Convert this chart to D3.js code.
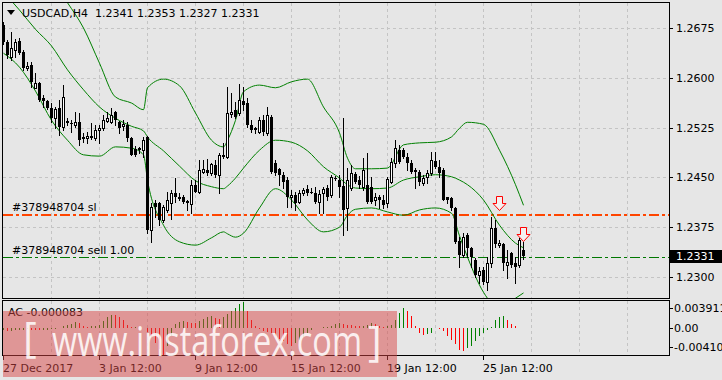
<!DOCTYPE html>
<head>
  <meta charset="utf-8">
  <script src="https://d3js.org/d3.v7.min.js"></script>
  <style>
body { margin:0; background:#e6e6e6; }
text {
	font-family: "DejaVu Sans", sans-serif;
	font-size: 11px;
	fill: #000;
}
.grid {
	stroke: #c4c4c4;
	stroke-dasharray: 3,3;
	shape-rendering: crispEdges;
}
.frame {
	fill: none;
	stroke: #000;
	shape-rendering: crispEdges;
}
.band {
	fill: none;
	stroke: #008000;
	stroke-width: 1;
}
.wm {
	font-family: "Open Sans", sans-serif;
	font-size: 42px;
	fill: #fff;
}
  </style>
</head>

<body>
  <script>
const symbol = 'USDCAD'
const period = 'H4'

// H4 bars, left to right
const opens = [1.2680,1.2654,1.2631,1.2642,1.2655,1.2639,1.2615,1.2619,1.2585,1.2592,
	1.2570,1.2565,1.2555,1.2539,1.2555,1.2526,1.2535,1.2532,1.2529,1.2533,
	1.2511,1.2509,1.2512,1.2509,1.2521,1.2524,1.2535,1.2533,1.2548,1.2533,
	1.2527,1.2529,1.2509,1.2493,1.2494,1.2491,1.2511,1.2371,1.2411,1.2411,
	1.2386,1.2401,1.2411,1.2427,1.2420,1.2420,1.2415,1.2410,1.2439,1.2428,
	1.2458,1.2461,1.2457,1.2469,1.2454,1.2484,1.2481,1.2545,1.2552,1.2547,
	1.2565,1.2562,1.2529,1.2524,1.2518,1.2536,1.2517,1.2541,1.2472,1.2463,
	1.2454,1.2446,1.2420,1.2424,1.2413,1.2427,1.2433,1.2428,1.2427,1.2413,
	1.2427,1.2434,1.2424,1.2449,1.2446,1.2437,1.2404,1.2434,1.2455,1.2446,
	1.2436,1.2439,1.2436,1.2416,1.2420,1.2416,1.2411,1.2443,1.2472,1.2491,
	1.2491,1.2481,1.2472,1.2461,1.2458,1.2442,1.2451,1.2457,1.2475,1.2466,
	1.2461,1.2420,1.2419,1.2404,1.2354,1.2333,1.2363,1.2344,1.2326,1.2303,
	1.2311,1.2293,1.2321,1.2374,1.2348,1.2350,1.2318,1.2336,1.2321,1.2318,
	1.2341]
const highs = [1.2684,1.2657,1.2669,1.2658,1.2660,1.2642,1.2624,1.2624,1.2607,1.2594,
	1.2574,1.2567,1.2562,1.2556,1.2567,1.2589,1.2539,1.2536,1.2548,1.2547,
	1.2517,1.2518,1.2532,1.2529,1.2529,1.2544,1.2548,1.2555,1.2550,1.2535,
	1.2536,1.2533,1.2511,1.2497,1.2496,1.2511,1.2512,1.2411,1.2416,1.2413,
	1.2408,1.2428,1.2431,1.2449,1.2427,1.2424,1.2416,1.2446,1.2446,1.2476,
	1.2476,1.2478,1.2472,1.2476,1.2487,1.2502,1.2586,1.2577,1.2564,1.2591,
	1.2586,1.2570,1.2536,1.2526,1.2541,1.2544,1.2556,1.2544,1.2476,1.2464,
	1.2458,1.2451,1.2431,1.2428,1.2431,1.2434,1.2439,1.2434,1.2436,1.2431,
	1.2436,1.2439,1.2454,1.2452,1.2454,1.2539,1.2464,1.2469,1.2458,1.2452,
	1.2479,1.2487,1.2451,1.2427,1.2424,1.2424,1.2451,1.2479,1.2506,1.2499,
	1.2494,1.2487,1.2476,1.2464,1.2461,1.2454,1.2461,1.2488,1.2488,1.2476,
	1.2464,1.2420,1.2420,1.2405,1.2360,1.2366,1.2366,1.2345,1.2329,1.2315,
	1.2315,1.2330,1.2390,1.2386,1.2356,1.2351,1.2341,1.2338,1.2330,1.2359,
	1.2353]
const lows = [1.2651,1.2630,1.2627,1.2631,1.2636,1.2612,1.2612,1.2586,1.2585,1.2565,
	1.2556,1.2553,1.2533,1.2524,1.2514,1.2521,1.2529,1.2518,1.2526,1.2499,
	1.2503,1.2502,1.2508,1.2506,1.2502,1.2521,1.2533,1.2532,1.2529,1.2517,
	1.2521,1.2505,1.2484,1.2482,1.2487,1.2481,1.2366,1.2353,1.2390,1.2378,
	1.2383,1.2398,1.2387,1.2413,1.2416,1.2411,1.2401,1.2396,1.2428,1.2427,
	1.2457,1.2454,1.2454,1.2451,1.2427,1.2479,1.2479,1.2541,1.2539,1.2544,
	1.2552,1.2526,1.2518,1.2517,1.2517,1.2514,1.2514,1.2457,1.2454,1.2439,
	1.2434,1.2405,1.2405,1.2401,1.2411,1.2424,1.2424,1.2427,1.2411,1.2396,
	1.2396,1.2416,1.2420,1.2446,1.2420,1.2363,1.2371,1.2431,1.2442,1.2434,
	1.2431,1.2411,1.2411,1.2408,1.2404,1.2404,1.2405,1.2442,1.2466,1.2472,
	1.2479,1.2461,1.2457,1.2434,1.2439,1.2439,1.2442,1.2454,1.2464,1.2451,
	1.2416,1.2411,1.2401,1.2351,1.2315,1.2330,1.2330,1.2315,1.2300,1.2291,
	1.2289,1.2281,1.2315,1.2345,1.2345,1.2311,1.2299,1.2315,1.2291,1.2315,
	1.2327]
const closes = [1.2654,1.2634,1.2645,1.2654,1.2637,1.2615,1.2618,1.2594,1.2592,1.2567,
	1.2565,1.2555,1.2539,1.2553,1.2526,1.2571,1.2532,1.2530,1.2533,1.2506,
	1.2508,1.2512,1.2509,1.2521,1.2524,1.2536,1.2539,1.2544,1.2536,1.2524,
	1.2530,1.2509,1.2484,1.2484,1.2491,1.2506,1.2371,1.2405,1.2405,1.2386,
	1.2405,1.2416,1.2427,1.2420,1.2418,1.2413,1.2411,1.2439,1.2428,1.2461,
	1.2463,1.2457,1.2470,1.2454,1.2484,1.2481,1.2547,1.2548,1.2541,1.2567,
	1.2559,1.2529,1.2521,1.2521,1.2536,1.2518,1.2544,1.2458,1.2457,1.2454,
	1.2443,1.2420,1.2424,1.2411,1.2427,1.2431,1.2427,1.2428,1.2413,1.2425,
	1.2433,1.2420,1.2451,1.2449,1.2436,1.2401,1.2446,1.2457,1.2443,1.2439,
	1.2461,1.2413,1.2413,1.2420,1.2416,1.2408,1.2448,1.2473,1.2494,1.2473,
	1.2481,1.2472,1.2458,1.2458,1.2443,1.2449,1.2457,1.2476,1.2466,1.2457,
	1.2416,1.2416,1.2404,1.2353,1.2333,1.2360,1.2344,1.2330,1.2303,1.2309,
	1.2293,1.2321,1.2374,1.2350,1.2351,1.2321,1.2323,1.2318,1.2315,1.2356,
	1.2331]

// Bollinger bands read at these bars
const bandBars = [0,4,8,12,16,20,24,28,32,35,36,40,44,48,52,55,56,58,60,64,
	68,72,76,80,84,86,88,92,96,100,104,108,112,114,116,120,124,128,130]
const upperBand = [1.2860,1.2823,1.2785,1.2747,1.2713,1.2675,1.2622,1.2571,1.2562,1.2552,
	1.2585,1.2598,1.2588,1.2547,1.2506,1.2496,1.2506,1.2536,1.2579,1.2589,
	1.2585,1.2594,1.2598,1.2556,1.2517,1.2479,1.2463,1.2463,1.2464,1.2499,
	1.2502,1.2503,1.2511,1.2524,1.2533,1.2530,1.2491,1.2439,1.2408]
const middleBand = [1.2729,1.2702,1.2673,1.2648,1.2612,1.2582,1.2556,1.2539,1.2527,1.2520,
	1.2511,1.2490,1.2467,1.2445,1.2436,1.2433,1.2437,1.2449,1.2464,1.2491,
	1.2506,1.2503,1.2490,1.2466,1.2449,1.2439,1.2434,1.2433,1.2434,1.2446,
	1.2451,1.2454,1.2451,1.2446,1.2439,1.2416,1.2378,1.2351,1.2344]
const lowerBand = [1.2637,1.2616,1.2580,1.2536,1.2506,1.2484,1.2482,1.2496,1.2494,1.2484,
	1.2446,1.2378,1.2353,1.2348,1.2359,1.2368,1.2365,1.2360,1.2366,1.2404,
	1.2433,1.2416,1.2386,1.2368,1.2375,1.2393,1.2402,1.2404,1.2398,1.2393,
	1.2401,1.2404,1.2396,1.2362,1.2330,1.2277,1.2253,1.2268,1.2276]

// Accelerator oscillator
const acValues = [-0.00038,-0.00045,-0.00042,-0.00038,-0.00033,-0.00030,-0.00023,-0.00030,-0.00038,-0.00039,
	-0.00036,-0.00030,-0.00023,-0.00015,0.00003,0.00023,0.00038,0.00060,0.00083,0.00068,
	0.00023,0.00015,0.00023,0.00030,0.00045,0.00105,0.00165,0.00195,0.00188,0.00165,
	0.00120,0.00045,0.00008,0.00015,0.00003,-0.00008,-0.00060,-0.00135,-0.00225,-0.00315,
	-0.00410,-0.00270,-0.00120,0.00060,0.00090,0.00105,0.00090,0.00075,0.00068,0.00105,
	0.00135,0.00165,0.00180,0.00150,0.00135,0.00158,0.00210,0.00255,0.00300,0.00360,
	0.003911,0.00255,0.00120,0.00030,-0.00015,-0.00045,-0.00060,-0.00075,-0.00120,-0.00165,
	-0.00195,-0.00240,-0.00270,-0.00225,-0.00180,-0.00135,-0.00075,-0.00030,0.00000,-0.00008,
	0.00008,0.00015,0.00030,0.00060,0.00075,0.00060,0.00045,0.00038,0.00030,0.00023,
	0.00030,0.00045,0.00075,0.00060,0.00030,0.00015,0.00023,0.00045,0.00120,0.00225,
	0.00300,0.00255,0.00180,0.00030,-0.00075,-0.00105,-0.00090,-0.00075,-0.00008,-0.00015,
	-0.00045,-0.00120,-0.00180,-0.00240,-0.00330,-0.00345,-0.00300,-0.00270,-0.00195,-0.00120,
	-0.00075,-0.00030,0.00015,0.00120,0.00165,0.00180,0.00120,0.00060,0.00030,-0.00003,
	-0.000083]

const priceTicks = [1.2300, 1.2375, 1.2450, 1.2525, 1.2600, 1.2675]
const acTicks = [0.003911, 0, -0.0041]
const acTickLabels = ['0.003911', '0.00', '-0.00410']
const timeBars = [0, 24, 48, 72, 96, 120]
const timeLabels = ['27 Dec 2017', '3 Jan 12:00', '9 Jan 12:00', '15 Jan 12:00', '19 Jan 12:00', '25 Jan 12:00']

const orderId = '378948704'
const slPrice = 1.2394
const sellPrice = 1.2330
const lots = 1.00
const arrowBars = [124, 130]
const arrowPrices = [1.2401, 1.2354]

const W = 722
const H = 380

const x = d3.scaleLinear().domain([0, 166.5]).range([3, 669])
const y = d3.scaleLinear().domain([1.2300, 1.2675]).range([277, 28])
const yAc = d3.scaleLinear().domain([-0.0041, 0.003911]).range([355, 302])
const px = i => Math.round(x(i))

const svg = d3.select('body')
	.append('svg')
	.attr('width', W)
	.attr('height', H)

svg.append('rect').attr('width', W).attr('height', H).attr('fill', '#e6e6e6')

const defs = svg.append('defs')
defs.append('clipPath').attr('id', 'clipMain')
	.append('rect').attr('x', 3).attr('y', 3).attr('width', 666).attr('height', 295)
defs.append('clipPath').attr('id', 'clipAc')
	.append('rect').attr('x', 3).attr('y', 301).attr('width', 666).attr('height', 54)

// grid
const gridBars = d3.range(12, 167, 12)
const grid = svg.append('g')
grid.selectAll('.hgrid')
	.data(priceTicks)
	.enter().append('line')
	.attr('class', 'grid')
	.attr('x1', 3).attr('x2', 669)
	.attr('y1', d => Math.round(y(d)) + 0.5)
	.attr('y2', d => Math.round(y(d)) + 0.5)
grid.selectAll('.vgrid')
	.data(gridBars)
	.enter().append('line')
	.attr('class', 'grid')
	.attr('x1', d => px(d) + 0.5).attr('x2', d => px(d) + 0.5)
	.attr('y1', 3).attr('y2', 298)
grid.selectAll('.vgridAc')
	.data(gridBars)
	.enter().append('line')
	.attr('class', 'grid')
	.attr('x1', d => px(d) + 0.5).attr('x2', d => px(d) + 0.5)
	.attr('y1', 301).attr('y2', 355)

// order lines (stop loss and entry), dash-dot
const orderLevels = [slPrice, sellPrice]
const orderColors = ['#ff4500', '#007800']
const orderWidths = [2, 1]
svg.selectAll('.orderline')
	.data(orderLevels)
	.enter().append('path')
	.attr('d', (d, k) => `M3,${Math.round(y(d)) + (orderWidths[k] === 1 ? 0.5 : 0)}H669`)
	.attr('fill', 'none')
	.attr('stroke', (d, k) => orderColors[k])
	.attr('stroke-width', (d, k) => orderWidths[k])
	.attr('stroke-dasharray', '10,3,3,3')

const main = svg.append('g').attr('clip-path', 'url(#clipMain)')

// bands
const bandLine = vals => d3.line()
	.x((d, i) => x(bandBars[i]) + 0.5)
	.y(d => y(d))
	.curve(d3.curveMonotoneX)(vals)
;[upperBand, middleBand, lowerBand].forEach(vals => {
	main.append('path').attr('class', 'band').attr('d', bandLine(vals))
})

// candles
const bars = d3.range(closes.length)
const candle = main.selectAll('.candle')
	.data(bars)
	.enter().append('g')
	.attr('class', 'candle')

candle.append('line')
	.attr('x1', i => px(i) + 0.5).attr('x2', i => px(i) + 0.5)
	.attr('y1', i => Math.round(y(highs[i])))
	.attr('y2', i => Math.round(y(lows[i])) + 1)
	.attr('stroke', '#000')
	.attr('shape-rendering', 'crispEdges')

candle.each(function (i) {
	const g = d3.select(this)
	const top = Math.round(y(Math.max(opens[i], closes[i])))
	const bot = Math.round(y(Math.min(opens[i], closes[i])))
	if (closes[i] > opens[i]) {
		g.append('rect')
			.attr('x', px(i) - 0.5).attr('y', top + 0.5)
			.attr('width', 2).attr('height', Math.max(bot - top, 1))
			.attr('fill', '#fff').attr('stroke', '#000')
	} else {
		g.append('rect')
			.attr('x', px(i) - 1).attr('y', top)
			.attr('width', 3).attr('height', Math.max(bot - top, 1))
			.attr('fill', '#000')
	}
})

// sell arrows
main.selectAll('.arrow')
	.data(arrowBars)
	.enter().append('path')
	.attr('d', (b, k) => {
		const cx = px(b) + 0.5
		const t = Math.round(y(arrowPrices[k])) + 0.5
		return `M${cx - 3},${t - 14}H${cx + 3}V${t - 7}H${cx + 6.5}L${cx},${t}L${cx - 6.5},${t - 7}H${cx - 3}Z`
	})
	.attr('fill', '#f4f0f0')
	.attr('stroke', '#ff0000')

// header
svg.append('path').attr('d', 'M7,10H15L11,15Z').attr('fill', '#000')
svg.append('text')
	.attr('x', 22).attr('y', 17)
	.style('white-space', 'pre')
	.text(`${symbol},${period}  ${[opens, highs, lows, closes].map(a => a[a.length - 1].toFixed(4)).join(' ')}`)

// order labels
svg.append('text').attr('x', 12).attr('y', 211).text(`#${orderId} sl`)
svg.append('text').attr('x', 12).attr('y', 254).text(`#${orderId} sell ${lots.toFixed(2)}`)

// price axis
svg.selectAll('.ptick')
	.data(priceTicks)
	.enter().append('line')
	.attr('x1', 669).attr('x2', 673)
	.attr('y1', d => Math.round(y(d)) + 0.5).attr('y2', d => Math.round(y(d)) + 0.5)
	.attr('stroke', '#000')
svg.selectAll('.plabel')
	.data(priceTicks)
	.enter().append('text')
	.attr('x', 676)
	.attr('y', d => Math.round(y(d)) + 4)
	.text(d => d.toFixed(4))

const last = closes[closes.length - 1]
svg.append('rect')
	.attr('x', 670).attr('y', Math.round(y(last)) - 6)
	.attr('width', 52).attr('height', 13)
	.attr('fill', '#000')
svg.append('text')
	.attr('x', 676).attr('y', Math.round(y(last)) + 4)
	.style('fill', '#fff')
	.text(last.toFixed(4))

// AC panel
const ac = svg.append('g').attr('clip-path', 'url(#clipAc)')
ac.selectAll('.acbar')
	.data(bars)
	.enter().append('line')
	.attr('x1', i => px(i) + 0.5).attr('x2', i => px(i) + 0.5)
	.attr('y1', Math.round(yAc(0)))
	.attr('y2', i => Math.round(yAc(acValues[i])))
	.attr('stroke', i => (i === 0 || acValues[i] > acValues[i - 1]) ? '#008000' : '#ff0000')
	.attr('shape-rendering', 'crispEdges')

svg.append('text').attr('x', 8).attr('y', 316)
	.text(`AC ${acValues[acValues.length - 1].toFixed(6)}`)

const acLabelY = [308, 328, 347]
svg.selectAll('.actick')
	.data(acTicks)
	.enter().append('line')
	.attr('x1', 669).attr('x2', 673)
	.attr('y1', (d, k) => acLabelY[k] + 0.5).attr('y2', (d, k) => acLabelY[k] + 0.5)
	.attr('stroke', '#000')
svg.selectAll('.aclabel')
	.data(acTicks)
	.enter().append('text')
	.attr('x', 674)
	.attr('y', (d, k) => acLabelY[k] + 4)
	.text((d, k) => acTickLabels[k])

// frames
svg.append('rect').attr('class', 'frame').attr('x', 2.5).attr('y', 2.5).attr('width', 667).attr('height', 296)
svg.append('rect').attr('class', 'frame').attr('x', 2.5).attr('y', 300.5).attr('width', 667).attr('height', 55)

// time axis
svg.selectAll('.ttick')
	.data(timeBars)
	.enter().append('line')
	.attr('x1', d => px(d) + 0.5).attr('x2', d => px(d) + 0.5)
	.attr('y1', 356).attr('y2', 360)
	.attr('stroke', '#000')
svg.selectAll('.tlabel')
	.data(timeBars)
	.enter().append('text')
	.attr('x', d => px(d))
	.attr('y', 372)
	.text((d, k) => timeLabels[k])

// watermark
const wm = svg.append('g')
wm.append('rect')
	.attr('x', 3).attr('y', 311).attr('width', 394).attr('height', 66)
	.attr('fill', '#d84646').attr('opacity', 0.5)
wm.append('text')
	.attr('class', 'wm')
	.attr('x', 23).attr('y', 352)
	.attr('opacity', 0.85)
	.text('[')
wm.append('text')
	.attr('class', 'wm')
	.attr('x', 52).attr('y', 356)
	.attr('textLength', 310).attr('lengthAdjust', 'spacingAndGlyphs')
	.attr('opacity', 0.85)
	.text('www.instaforex.com')
wm.append('text')
	.attr('class', 'wm')
	.attr('x', 368).attr('y', 356)
	.attr('opacity', 0.85)
	.text(']')
  </script>
</body>
